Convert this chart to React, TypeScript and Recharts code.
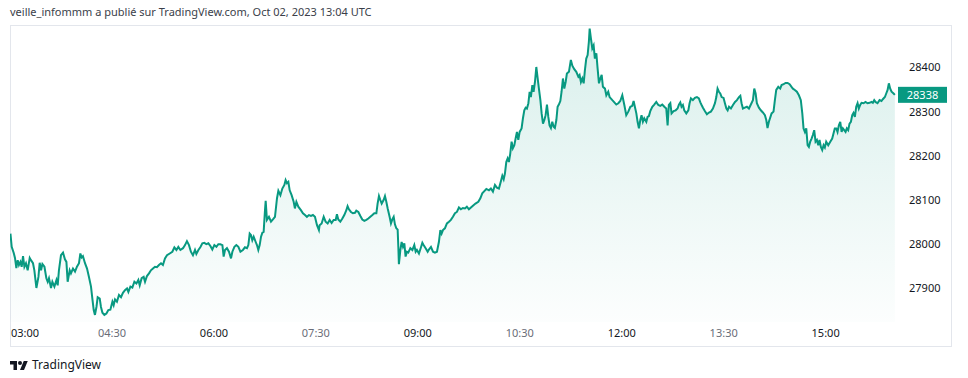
import React from 'react';
import { AreaChart, Area, XAxis, YAxis, ReferenceLine } from 'recharts';

// minutes after 03:00
const MINUTES = [
  0.4, 1.5, 3.3, 4.4, 5.6, 6.8, 7.9, 9.2, 10.3, 11.5,
  12.7, 14.1, 15.6, 17.4, 18.5, 20.3, 21.5, 23.3, 25.1, 26.2,
  27.4, 28.6, 30.4, 32.1, 33.3, 34.4, 36.2, 37.4, 39.2, 41.0,
  42.1, 43.2, 45.0, 46.8, 48.5, 49.8, 50.9, 52.7, 53.8, 55.6,
  57.4, 59.1, 60.9, 62.1, 63.3, 64.4, 66.2, 68.0, 69.7, 71.5,
  72.7, 73.9, 75.0, 76.3, 77.4, 79.2, 80.3, 81.6, 83.3, 85.1,
  86.8, 88.6, 90.4, 91.5, 92.7, 94.4, 96.2, 98.0, 99.7, 101.5,
  103.3, 104.5, 106.3, 108.0, 109.8, 111.6, 113.3, 114.5, 116.2, 118.0,
  119.2, 120.9, 122.7, 124.4, 126.2, 128.0, 129.7, 131.5, 133.3, 135.0,
  136.8, 138.6, 141.0, 143.3, 145.1, 146.9, 148.6, 150.4, 152.7, 154.5,
  156.2, 158.0, 159.7, 161.5, 163.3, 164.5, 166.3, 168.0, 169.8, 171.6,
  173.3, 175.1, 176.9, 178.6, 180.4, 182.2, 183.9, 185.7, 187.5, 188.6,
  189.8, 191.5, 193.3, 195.1, 196.3, 198.1, 199.8, 201.6, 203.4, 205.6,
  207.4, 209.2, 210.4, 211.6, 212.7, 213.9, 215.1, 216.9, 218.0, 219.2,
  220.4, 221.6, 222.8, 223.9, 225.1, 225.7, 226.8, 228.6, 230.4, 232.1,
  233.9, 235.7, 236.9, 238.7, 240.4, 242.2, 243.3, 244.5, 245.7, 246.9,
  248.6, 250.4, 251.5, 252.8, 254.5, 256.8, 258.6, 260.4, 262.1, 263.9,
  265.7, 267.4, 269.2, 271.0, 272.7, 273.3, 275.1, 276.9, 278.6, 280.4,
  282.2, 283.9, 285.7, 287.5, 288.6, 289.8, 291.6, 293.4, 295.1, 296.9,
  298.0, 299.2, 301.0, 302.7, 304.5, 305.7, 307.5, 309.3, 311.0, 312.8,
  314.6, 316.3, 318.1, 319.9, 321.6, 323.4, 324.5, 325.7, 326.9, 328.1,
  329.8, 331.0, 332.2, 333.4, 335.1, 336.3, 337.5, 338.7, 339.8, 341.0,
  342.2, 342.8, 343.3, 344.6, 345.7, 346.9, 348.1, 349.2, 350.4, 351.6,
  353.4, 355.2, 356.9, 358.1, 359.2, 361.0, 362.8, 364.0, 365.1, 366.9,
  368.7, 369.8, 371.6, 373.4, 375.1, 376.9, 378.6, 379.9, 381.0, 382.2,
  383.9, 385.7, 387.5, 389.2, 391.0, 392.8, 394.5, 396.3, 398.0, 399.8,
  401.6, 403.3, 405.1, 410.9, 413.4, 415.2, 416.9, 418.7, 420.5, 422.8,
  424.5, 426.3, 428.1, 429.8, 431.6, 433.4, 434.6, 435.8, 436.9, 438.1,
  439.3, 440.4, 441.6, 442.8, 443.9, 445.2, 446.3, 447.5, 448.7, 449.9,
  451.6, 452.8, 454.0, 455.2, 456.3, 457.6, 458.7, 459.8, 461.1, 462.2,
  463.4, 464.6, 465.8, 466.9, 468.2, 469.3, 470.5, 471.7, 472.8, 474.0,
  475.2, 476.3, 477.5, 478.7, 479.9, 481.0, 482.3, 483.4, 484.5, 485.8,
  486.9, 488.1, 489.3, 490.5, 491.6, 493.4, 495.1, 496.4, 498.1, 499.9,
  501.7, 502.8, 504.0, 505.2, 506.4, 507.5, 508.7, 509.9, 511.0, 511.7,
  512.8, 514.0, 515.2, 516.3, 517.6, 518.7, 519.9, 521.1, 522.3, 523.4,
  525.2, 526.4, 528.1, 529.3, 531.7, 533.5, 535.2, 537.0, 538.7, 540.5,
  542.3, 544.0, 545.8, 547.6, 549.3, 550.5, 551.6, 552.9, 554.0, 555.2,
  556.4, 557.5, 558.7, 559.9, 561.7, 562.8, 564.0, 565.2, 567.0, 568.7,
  570.5, 572.3, 574.0, 575.8, 577.6, 579.3, 580.5, 581.6, 582.9, 584.0,
  585.8, 587.6, 589.3, 590.5, 591.7, 592.8, 594.0, 595.2, 597.0, 598.8,
  599.9, 601.1, 602.8, 604.6, 606.4, 608.1, 609.4, 610.5, 611.7, 613.5,
  615.2, 617.0, 618.7, 620.5, 622.3, 623.5, 624.6, 625.8, 627.0, 628.2,
  629.9, 631.1, 632.4, 633.5, 634.7, 636.4, 638.2, 640.0, 641.7, 643.5,
  644.7, 645.8, 647.0, 648.7, 650.5, 652.3, 654.0, 655.8, 657.0, 658.2,
  659.3, 661.1, 662.8, 664.6, 666.4, 667.6, 668.7, 669.9, 672.3, 674.0,
  675.2, 676.4, 678.2, 679.9, 681.1, 682.9, 684.6, 686.4, 688.2, 689.9,
  691.1, 692.8, 694.6, 696.4, 698.1, 699.4, 700.5, 701.7, 702.9, 704.1,
  705.2, 706.4, 707.6, 708.7, 709.9, 711.1, 712.3, 713.5, 714.6, 715.8,
  717.0, 718.2, 719.3, 720.5, 722.3, 724.1, 725.8, 727.0, 728.1, 729.4,
  730.5, 731.7, 732.9, 734.1, 735.2, 736.4, 737.6, 738.7, 739.9, 741.1,
  742.3, 743.5, 744.6, 745.8, 747.0, 748.2, 749.3, 750.5, 751.7, 753.5,
  755.2, 757.0, 758.8, 760.5, 761.7, 762.9, 764.0, 765.8, 767.6, 769.3,
  770.5, 772.3, 773.5, 774.7, 775.8, 777.0, 778.2, 780.0, 781.1,
];

const PRICES = [
  28024, 27994, 27980, 27969, 27946, 27964, 27953, 27960, 27949, 27973,
  27949, 27957, 27941, 27969, 27964, 27957, 27941, 27901, 27926, 27958,
  27941, 27955, 27949, 27923, 27915, 27923, 27901, 27915, 27904, 27919,
  27907, 27941, 27975, 27981, 27966, 27960, 27915, 27941, 27934, 27945,
  27938, 27949, 27957, 27979, 27970, 27973, 27957, 27945, 27926, 27904,
  27877, 27851, 27840, 27858, 27880, 27877, 27858, 27845, 27840, 27843,
  27851, 27852, 27870, 27862, 27875, 27870, 27885, 27880, 27890, 27896,
  27900, 27892, 27904, 27902, 27915, 27911, 27919, 27907, 27923, 27926,
  27915, 27928, 27934, 27941, 27945, 27949, 27948, 27953, 27957, 27953,
  27968, 27975, 27979, 27983, 27993, 27987, 27994, 27987, 27991, 27998,
  28007, 27998, 27983, 27975, 27987, 27978, 27987, 27993, 28002, 28003,
  28000, 28002, 27996, 27988, 27998, 27994, 28000, 28000, 27998, 27972,
  27987, 27991, 27983, 27968, 27983, 27994, 27998, 27994, 27983, 27987,
  27993, 27991, 27998, 28024, 28021, 28009, 28017, 28005, 27998, 27987,
  27998, 28017, 28026, 28028, 28077, 28098, 28055, 28062, 28051, 28056,
  28062, 28104, 28121, 28111, 28126, 28134, 28145, 28138, 28141, 28122,
  28111, 28096, 28081, 28096, 28085, 28077, 28070, 28066, 28062, 28066,
  28064, 28066, 28062, 28043, 28032, 28043, 28047, 28062, 28051, 28047,
  28055, 28048, 28055, 28055, 28068, 28056, 28051, 28058, 28066, 28077,
  28086, 28079, 28073, 28070, 28071, 28076, 28073, 28064, 28056, 28053,
  28055, 28058, 28062, 28066, 28070, 28070, 28092, 28109, 28100, 28092,
  28100, 28109, 28096, 28081, 28062, 28047, 28056, 28062, 28045, 28036,
  28033, 27994, 27955, 27987, 28005, 27994, 28002, 27972, 27983, 27981,
  27991, 27987, 27998, 27983, 27987, 27979, 27993, 28003, 27998, 27991,
  27983, 27988, 27994, 27983, 27981, 27983, 28005, 28032, 28024, 28032,
  28036, 28047, 28051, 28055, 28062, 28070, 28073, 28083, 28079, 28082,
  28081, 28085, 28079, 28092, 28096, 28104, 28115, 28120, 28125, 28122,
  28126, 28119, 28134, 28128, 28126, 28143, 28155, 28147, 28160, 28186,
  28194, 28186, 28205, 28232, 28217, 28224, 28239, 28254, 28236, 28254,
  28262, 28285, 28303, 28309, 28307, 28319, 28345, 28333, 28360, 28345,
  28367, 28401, 28375, 28352, 28326, 28296, 28273, 28281, 28292, 28316,
  28288, 28269, 28263, 28277, 28266, 28263, 28281, 28311, 28316, 28324,
  28345, 28375, 28352, 28367, 28386, 28390, 28417, 28404, 28396, 28390,
  28379, 28383, 28367, 28375, 28364, 28394, 28420, 28428, 28458, 28488,
  28466, 28443, 28450, 28420, 28432, 28398, 28364, 28375, 28383, 28356,
  28352, 28337, 28345, 28333, 28326, 28321, 28316, 28319, 28324, 28337,
  28315, 28292, 28300, 28311, 28313, 28324, 28311, 28296, 28277, 28262,
  28281, 28292, 28277, 28285, 28277, 28288, 28290, 28301, 28311, 28316,
  28322, 28315, 28313, 28316, 28311, 28307, 28269, 28315, 28319, 28296,
  28301, 28303, 28307, 28316, 28321, 28311, 28315, 28303, 28296, 28303,
  28319, 28330, 28326, 28331, 28333, 28330, 28321, 28315, 28309, 28301,
  28294, 28298, 28300, 28307, 28319, 28333, 28352, 28345, 28341, 28333,
  28331, 28319, 28307, 28303, 28311, 28307, 28315, 28322, 28326, 28333,
  28336, 28319, 28307, 28309, 28311, 28307, 28316, 28326, 28352, 28341,
  28319, 28309, 28303, 28298, 28292, 28281, 28263, 28277, 28296, 28300,
  28326, 28349, 28356, 28352, 28360, 28362, 28365, 28365, 28362, 28356,
  28352, 28349, 28345, 28337, 28326, 28296, 28262, 28254, 28262, 28224,
  28220, 28232, 28239, 28247, 28258, 28232, 28236, 28224, 28236, 28220,
  28213, 28224, 28219, 28232, 28224, 28232, 28239, 28251, 28262, 28262,
  28254, 28269, 28277, 28254, 28262, 28258, 28254, 28262, 28258, 28273,
  28277, 28292, 28297, 28288, 28311, 28319, 28307, 28315, 28320, 28319,
  28322, 28319, 28320, 28322, 28320, 28326, 28322, 28319, 28326, 28324,
  28328, 28333, 28341, 28349, 28364, 28352, 28345, 28341, 28338,
];

const TIME_TICKS = [0, 90, 180, 270, 360, 450, 540, 630, 720];
const TIME_LABELS = ['03:00', '04:30', '06:00', '07:30', '09:00', '10:30', '12:00', '13:30', '15:00'];
const PRICE_TICKS = [27900, 28000, 28100, 28200, 28300, 28400];
const LAST_PRICE = 28338;
const X_DOMAIN: [number, number] = [0, 783];
const Y_DOMAIN: [number, number] = [27824, 28496];

const HEADER = 'veille_infommm a publié sur TradingView.com, Oct 02, 2023 13:04 UTC';
const BRAND = 'TradingView';

const n = Math.min(MINUTES.length, PRICES.length);
const data = MINUTES.slice(0, n).map((t, i) => ({ t, price: PRICES[i] }));

const GREEN = '#089981';
const FONT = "'Noto Sans', 'DejaVu Sans', sans-serif";

function TimeTick(props: any) {
  const { x, y, payload } = props;
  const i = TIME_TICKS.indexOf(payload.value);
  const first = i === 0;
  const major = i % 2 === 0;
  return (
    <text
      x={first ? x + 1 : x}
      y={y}
      dy="0.71em"
      textAnchor={first ? 'start' : 'middle'}
      fill={major ? '#131722' : '#6a6d78'}
      fontSize={11}
      fontFamily={FONT}
    >
      {TIME_LABELS[i]}
    </text>
  );
}

function PriceTick(props: any) {
  const { x, y, payload } = props;
  return (
    <text x={x} y={y} dy="0.355em" textAnchor="start" fill="#131722" fontSize={11} fontFamily={FONT}>
      {payload.value}
    </text>
  );
}

function LastPriceLabel(props: any) {
  const { viewBox } = props;
  if (!viewBox) return null;
  const right = viewBox.x + viewBox.width;
  const cy = viewBox.y;
  return (
    <g>
      <rect x={right + 1} y={cy - 8} width={49} height={16} fill={GREEN} />
      <text x={right + 25.5} y={cy} dy="0.355em" textAnchor="middle" fill="#ffffff" fontSize={11} fontFamily={FONT}>
        {LAST_PRICE}
      </text>
    </g>
  );
}

export default function App() {
  return (
    <div style={{ position: 'absolute', left: 0, top: 0, width: 968, height: 378, background: '#ffffff', overflow: 'hidden' }}>
      <div
        style={{
          position: 'absolute', left: 10, top: 4, fontSize: 11, fontFamily: FONT, color: '#3a3e49', whiteSpace: 'nowrap', lineHeight: '16px',
        }}
      >
        {HEADER}
      </div>
      <div
        style={{
          position: 'absolute', left: 10, top: 25, width: 942, height: 322, border: '1px solid #e3e6ec', boxSizing: 'border-box',
        }}
      />
      <div style={{ position: 'absolute', left: 0, top: 0 }}>
        <AreaChart width={968} height={378} data={data} margin={{ top: 25, right: 16, bottom: 31, left: 10 }}>
          <defs>
            <linearGradient id="areaFill" x1="0" y1="0" x2="0" y2="1">
              <stop offset="0%" stopColor={GREEN} stopOpacity={0.26} />
              <stop offset="100%" stopColor={GREEN} stopOpacity={0.02} />
            </linearGradient>
          </defs>
          <XAxis
            dataKey="t"
            type="number"
            domain={X_DOMAIN}
            ticks={TIME_TICKS}
            interval={0}
            height={25}
            tickLine={false}
            axisLine={false}
            tickSize={0}
            tickMargin={7}
            tick={<TimeTick />}
            allowDataOverflow
          />
          <YAxis
            orientation="right"
            type="number"
            domain={Y_DOMAIN}
            ticks={PRICE_TICKS}
            interval={0}
            width={55}
            tickLine={false}
            axisLine={false}
            tickSize={0}
            tickMargin={12}
            tick={<PriceTick />}
            allowDataOverflow
          />
          <Area
            type="linear"
            dataKey="price"
            stroke={GREEN}
            strokeWidth={2}
            fill="url(#areaFill)"
            dot={false}
            activeDot={false}
            isAnimationActive={false}
          />
          <ReferenceLine y={LAST_PRICE} stroke="none" strokeWidth={0} label={(p: any) => <LastPriceLabel {...p} />} />
        </AreaChart>
      </div>
      <svg style={{ position: 'absolute', left: 10, top: 359 }} width={18} height={14} viewBox="0 0 36 28">
        <path d="M14 22H7V11H0V4h14v18zM28 22h-8l7.5-18h8L28 22z" fill="#131722" />
        <circle cx={20} cy={8} r={4} fill="#131722" />
      </svg>
      <div
        style={{
          position: 'absolute', left: 32, top: 357, fontSize: 12, fontFamily: FONT, color: '#131722', whiteSpace: 'nowrap', lineHeight: '16px',
        }}
      >
        {BRAND}
      </div>
    </div>
  );
}
